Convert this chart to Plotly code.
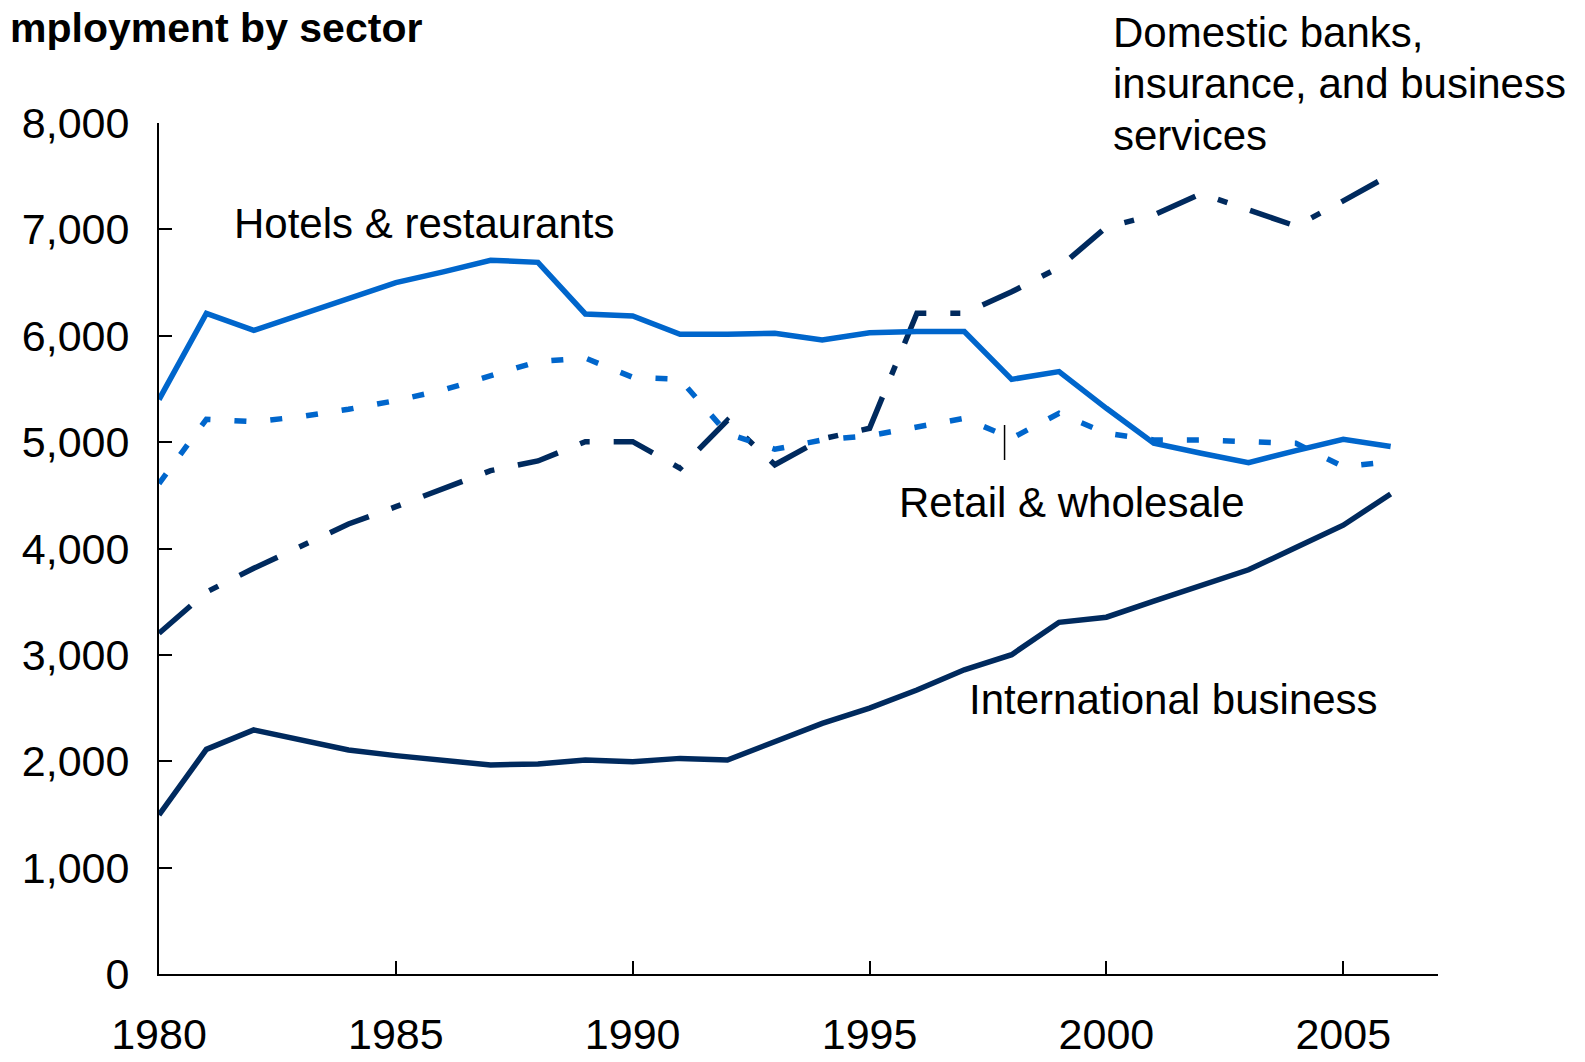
import plotly.graph_objects as go

years = list(range(1980, 2007))

hotels_restaurants = [5400, 6210, 6050, 6200, 6350, 6500, 6600, 6710, 6690, 6205, 6186,
                      6014, 6014, 6023, 5960, 6029, 6039, 6039, 5590, 5663, 5318,
                      4989, 4895, 4807, 4920, 5027, 4958]

retail_wholesale = [4610, 5215, 5192, 5240, 5309, 5390, 5490, 5625, 5758, 5790, 5609,
                    5590, 5080, 4933, 5020, 5060, 5145, 5224, 5036, 5271, 5083,
                    5020, 5020, 5010, 4989, 4769, 4816]

domestic_banks = [3203, 3590, 3814, 4020, 4230, 4393, 4566, 4732, 4823, 5004, 5004,
                  4754, 5205, 4787, 5030, 5130, 6211, 6211, 6413, 6641, 7021,
                  7135, 7335, 7183, 7031, 7268, 7515]

international_business = [1495, 2112, 2294, 2200, 2106, 2053, 2010, 1965, 1975, 2012, 1996,
                          2027, 2012, 2180, 2356, 2499, 2670, 2860, 3002, 3306, 3354,
                          3506, 3648, 3800, 4009, 4219, 4513]

x_tick_vals = [1980, 1985, 1990, 1995, 2000, 2005]
x_tick_text = ["1980", "1985", "1990", "1995", "2000", "2005"]
y_tick_vals = [0, 1000, 2000, 3000, 4000, 5000, 6000, 7000, 8000]
y_tick_text = ["0", "1,000", "2,000", "3,000", "4,000", "5,000", "6,000", "7,000", "8,000"]

domestic_label_lines = ["Domestic banks,", "insurance, and business", "services"]

BLUE = "#0066CC"
NAVY = "#002A5E"
FONT = "Liberation Sans, Arial, Helvetica, sans-serif"

# page body has an 8px default margin; figure sized to fit inside the window
W, H = 1569, 1046
L, R, T, B = 151, 139, 115, 80
PW, PH = W - L - R, H - T - B


def px_x(page_x):
    return (page_x - 8 - L) / PW


def px_y(page_y):
    return (T + PH - (page_y - 8)) / PH


fig = go.Figure()
fig.add_trace(go.Scatter(x=years, y=international_business, mode="lines",
                         line=dict(color=NAVY, width=5.5), name="International business"))
fig.add_trace(go.Scatter(x=years, y=domestic_banks, mode="lines",
                         line=dict(color=NAVY, width=5.5, dash="42px,24px,10px,24px"),
                         name="Domestic banks, insurance, and business services"))
fig.add_trace(go.Scatter(x=years, y=retail_wholesale, mode="lines",
                         line=dict(color=BLUE, width=5.5, dash="12px,24px"),
                         name="Retail & wholesale"))
fig.add_trace(go.Scatter(x=years, y=hotels_restaurants, mode="lines",
                         line=dict(color=BLUE, width=5.5), name="Hotels & restaurants"))

fig.add_shape(type="line", xref="x", yref="y", x0=1997.85, x1=1997.85, y0=4832, y1=5161,
              line=dict(color="black", width=1.5))

txt = dict(family=FONT, size=42, color="black")
fig.add_annotation(xref="paper", yref="paper", x=px_x(8), y=px_y(28),
                   xanchor="left", yanchor="middle",
                   text="<b>mployment by sector</b>", showarrow=False,
                   font=dict(family=FONT, size=41, color="black"))
fig.add_annotation(xref="x", yref="y", x=1981.55, y=7051, xanchor="left", yanchor="middle",
                   text="Hotels & restaurants", showarrow=False, font=txt)
for line_text, page_y in zip(domestic_label_lines, [33, 84, 135]):
    fig.add_annotation(xref="paper", yref="paper", x=px_x(1111), y=px_y(page_y),
                       xanchor="left", yanchor="middle", text=line_text,
                       showarrow=False, font=txt)
fig.add_annotation(xref="x", yref="y", x=1995.58, y=4437, xanchor="left", yanchor="middle",
                   text="Retail & wholesale", showarrow=False, font=txt)
fig.add_annotation(xref="x", yref="y", x=1997.06, y=2580, xanchor="left", yanchor="middle",
                   text="International business", showarrow=False, font=txt)

fig.update_layout(
    width=W, height=H,
    margin=dict(l=L, r=R, t=T, b=B, autoexpand=False),
    paper_bgcolor="white", plot_bgcolor="white",
    showlegend=False, hovermode=False,
    font=dict(family=FONT, size=42, color="black"),
    xaxis=dict(range=[1980, 2007], tickvals=x_tick_vals, ticktext=x_tick_text,
               showgrid=False, zeroline=False, showline=True, linecolor="black", linewidth=2,
               ticks="inside", ticklen=13, tickwidth=2, tickcolor="black", automargin=False,
               ticklabelstandoff=21, tickfont=dict(family=FONT, size=43, color="black")),
    yaxis=dict(range=[0, 8000], tickvals=y_tick_vals, ticktext=y_tick_text,
               showgrid=False, zeroline=False, showline=True, linecolor="black", linewidth=2,
               ticks="inside", ticklen=13, tickwidth=2, tickcolor="black", automargin=False,
               ticklabelstandoff=19, tickfont=dict(family=FONT, size=43, color="black")),
)

fig.write_html("out.html")
